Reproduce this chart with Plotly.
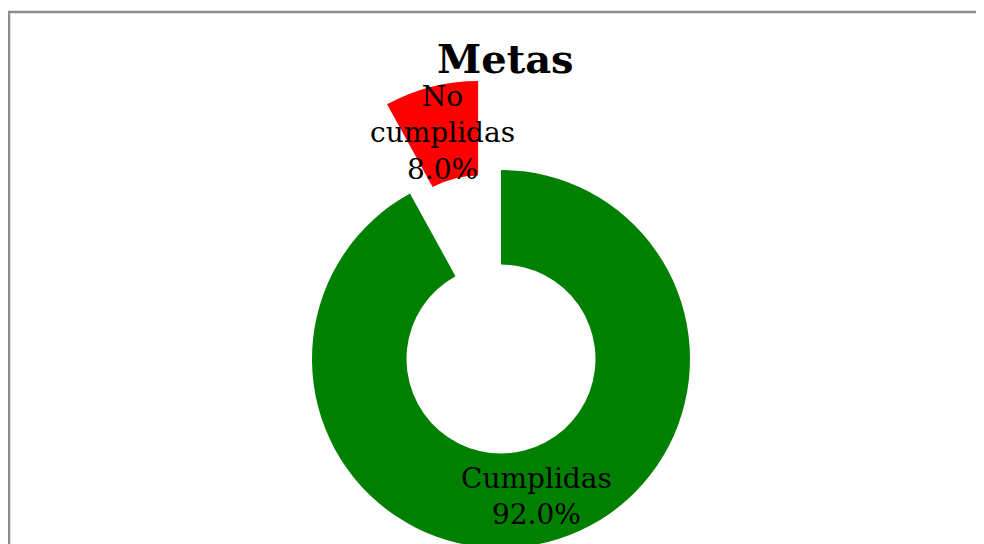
import numpy as np
import plotly.graph_objects as go

# Data
labels = ["Cumplidas", "No cumplidas"]
values = [92, 8]
colors = ["#008000", "#FF0000"]
pulled = [False, True]
title = "Metas"

# page body has an 8px margin, so figure coords = page coords - 8
W, H = 984, 600
cx, cy, R = 493, 351, 189   # donut centre / outer radius in px
hole = 0.5
pull_px = 92                # how far the pulled slice is moved out

total = sum(values)
shares = [v / total for v in values]
# mid angle of each slice, clockwise from 12 o'clock
starts = np.cumsum([0] + shares[:-1]) * 360
mids = [s + sh * 180 for s, sh in zip(starts, shares)]

fig = go.Figure()
annots = []
for i, lab in enumerate(labels):
    ang = np.radians(mids[i])
    ox, oy = cx, cy
    if pulled[i]:
        ox += pull_px * np.sin(ang)
        oy -= pull_px * np.cos(ang)
    slice_colors = [c if j == i else "rgba(0,0,0,0)" for j, c in enumerate(colors)]
    fig.add_trace(go.Pie(
        labels=labels, values=values, sort=False, direction="clockwise",
        rotation=0, hole=hole, marker=dict(colors=slice_colors, line=dict(width=0)),
        textinfo="none", hoverinfo="skip", showlegend=False,
        domain=dict(x=[(ox - R) / W, (ox + R) / W],
                    y=[1 - (oy + R) / H, 1 - (oy - R) / H]),
    ))
    # label at the middle of the ring for this slice
    rm = R * (1 + hole) / 2
    tx = ox + rm * np.sin(ang)
    ty = oy - rm * np.cos(ang)
    txt = lab.replace(" ", "<br>") + "<br>" + f"{shares[i] * 100:.1f}%"
    annots.append(dict(x=tx / W, y=1 - ty / H, xref="paper", yref="paper",
                       text=txt, showarrow=False, xanchor="center", yanchor="middle",
                       font=dict(family="DejaVu Serif", size=28, color="black")))

annots.append(dict(x=497 / W, y=1 - 51 / H, xref="paper", yref="paper", text="<b>" + title + "</b>",
                   showarrow=False, xanchor="center", yanchor="middle",
                   font=dict(family="DejaVu Serif", size=40, color="black")))

fig.update_layout(
    width=W, height=H, margin=dict(l=0, r=0, t=0, b=0),
    paper_bgcolor="white", plot_bgcolor="white",
    annotations=annots,
    shapes=[dict(type="rect", xref="paper", yref="paper", x0=1 / W, x1=1.05,
                 y0=-0.05, y1=1 - 4 / H, line=dict(color="#8c8c8c", width=2.5))],
)

fig.write_html("out.html")
